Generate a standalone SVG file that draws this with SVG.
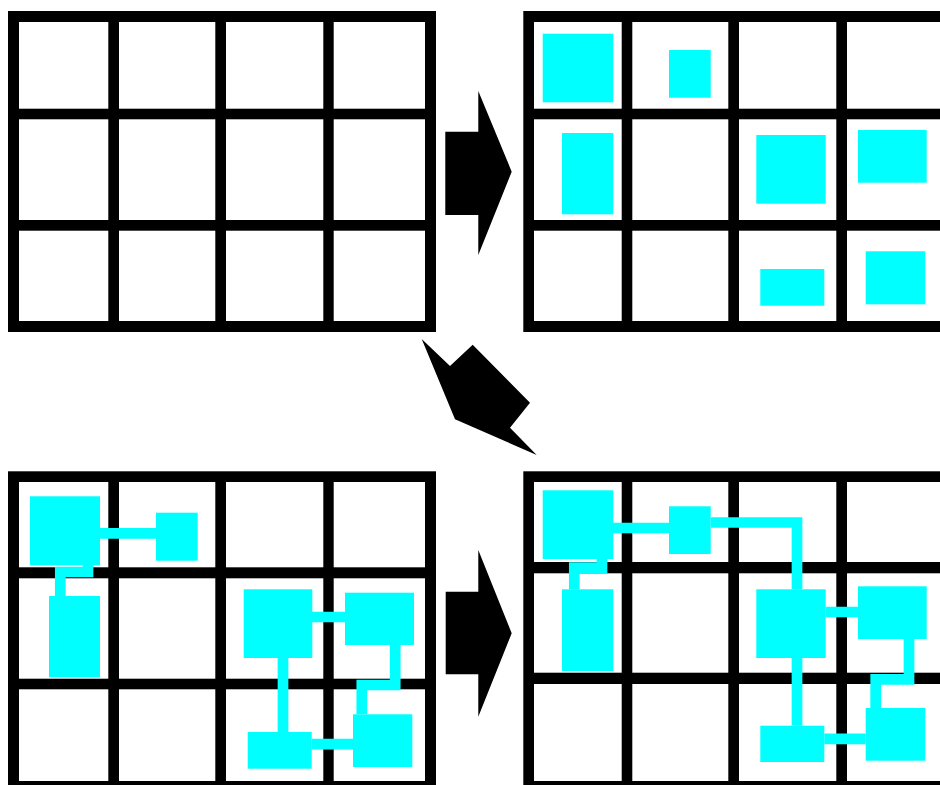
<svg xmlns="http://www.w3.org/2000/svg" width="940" height="785" viewBox="0 0 940 785">
<style>
.frame{fill:#000}
.cell{fill:#fff}
.box{fill:#00ffff}
.wire{fill:none;stroke:#00ffff;stroke-width:10.7;stroke-linejoin:miter;stroke-linecap:butt}
.arrow{fill:#000}
</style>
<rect width="940" height="785" fill="#fff"/>
<g id="panel-top-left">
<rect class="frame" x="8" y="11" width="428" height="321"/>
<rect class="cell" x="19" y="22" width="89.3" height="86.7"/><rect class="cell" x="119" y="22" width="96.3" height="86.7"/><rect class="cell" x="226" y="22" width="97.3" height="86.7"/><rect class="cell" x="333.7" y="22" width="91.3" height="86.7"/>
<rect class="cell" x="19" y="119.3" width="89.3" height="100.7"/><rect class="cell" x="119" y="119.3" width="96.3" height="100.7"/><rect class="cell" x="226" y="119.3" width="97.3" height="100.7"/><rect class="cell" x="333.7" y="119.3" width="91.3" height="100.7"/>
<rect class="cell" x="19" y="230.7" width="89.3" height="90.3"/><rect class="cell" x="119" y="230.7" width="96.3" height="90.3"/><rect class="cell" x="226" y="230.7" width="97.3" height="90.3"/><rect class="cell" x="333.7" y="230.7" width="91.3" height="90.3"/>
</g>
<g id="panel-top-right">
<rect class="frame" x="523.3" y="11" width="416.7" height="321"/>
<rect class="cell" x="534" y="22" width="87.7" height="86.7"/><rect class="cell" x="632.3" y="22" width="96" height="86.7"/><rect class="cell" x="739" y="22" width="97.3" height="86.7"/><rect class="cell" x="847" y="22" width="93" height="86.7"/>
<rect class="cell" x="534" y="119.3" width="87.7" height="100.7"/><rect class="cell" x="632.3" y="119.3" width="96" height="100.7"/><rect class="cell" x="739" y="119.3" width="97.3" height="100.7"/><rect class="cell" x="847" y="119.3" width="93" height="100.7"/>
<rect class="cell" x="534" y="230.7" width="87.7" height="90.3"/><rect class="cell" x="632.3" y="230.7" width="96" height="90.3"/><rect class="cell" x="739" y="230.7" width="97.3" height="90.3"/><rect class="cell" x="847" y="230.7" width="93" height="90.3"/>
</g>
<g id="panel-bottom-left">
<rect class="frame" x="8" y="471.3" width="428" height="313.7"/>
<rect class="cell" x="19" y="482" width="89.3" height="85.3"/><rect class="cell" x="119" y="482" width="96.3" height="85.3"/><rect class="cell" x="226" y="482" width="97.3" height="85.3"/><rect class="cell" x="333.7" y="482" width="91.3" height="85.3"/>
<rect class="cell" x="19" y="578.3" width="89.3" height="100.4"/><rect class="cell" x="119" y="578.3" width="96.3" height="100.4"/><rect class="cell" x="226" y="578.3" width="97.3" height="100.4"/><rect class="cell" x="333.7" y="578.3" width="91.3" height="100.4"/>
<rect class="cell" x="19" y="689.3" width="89.3" height="91.7"/><rect class="cell" x="119" y="689.3" width="96.3" height="91.7"/><rect class="cell" x="226" y="689.3" width="97.3" height="91.7"/><rect class="cell" x="333.7" y="689.3" width="91.3" height="91.7"/>
</g>
<g id="panel-bottom-right">
<rect class="frame" x="523.3" y="471.3" width="416.7" height="313.7"/>
<rect class="cell" x="534" y="482" width="87.7" height="80"/><rect class="cell" x="632.3" y="482" width="96" height="80"/><rect class="cell" x="739" y="482" width="97.3" height="80"/><rect class="cell" x="847" y="482" width="93" height="80"/>
<rect class="cell" x="534" y="573.3" width="87.7" height="99.4"/><rect class="cell" x="632.3" y="573.3" width="96" height="99.4"/><rect class="cell" x="739" y="573.3" width="97.3" height="99.4"/><rect class="cell" x="847" y="573.3" width="93" height="99.4"/>
<rect class="cell" x="534" y="684" width="87.7" height="97"/><rect class="cell" x="632.3" y="684" width="96" height="97"/><rect class="cell" x="739" y="684" width="97.3" height="97"/><rect class="cell" x="847" y="684" width="93" height="97"/>
</g>
<g id="arrow-top"><polygon class="arrow" points="445.3,131.7 478.3,131.7 478.3,91 511.7,171.7 478.3,255 478.3,215 445.3,215"/></g>
<g id="arrow-diagonal"><polygon class="arrow" points="421.7,339 450,366 472.7,344.7 530,402.7 510,427.7 536.7,455 455,419.3"/></g>
<g id="arrow-bottom"><polygon class="arrow" points="445.7,591.7 478.3,591.7 478.3,550 511.7,633.3 478.3,716.7 478.3,674.3 445.7,674.3"/></g>
<g id="connectors">
<polyline class="wire" points="100,533.3 156,533.3"/>
<polyline class="wire" points="88,565 88,572 60.3,572 60.3,596"/>
<polyline class="wire" points="312,617 345,617"/>
<polyline class="wire" points="283,658 283,732"/>
<polyline class="wire" points="311.7,744.2 353,744.2"/>
<polyline class="wire" points="395.2,645 395.2,685 361.8,685 361.8,714.3"/>
<polyline class="wire" points="613,528 669,528"/>
<polyline class="wire" points="710.7,522.5 797,522.5 797,589.3"/>
<polyline class="wire" points="602,559 602,567.7 574.3,567.7 574.3,589.3"/>
<polyline class="wire" points="825.7,612 858,612"/>
<polyline class="wire" points="797,658 797,725.7"/>
<polyline class="wire" points="824.3,738.8 865.7,738.8"/>
<polyline class="wire" points="909,639 909,679.3 875.7,679.3 875.7,708"/>
</g>
<g id="boxes-top-right">
<rect class="box" x="542.7" y="33.7" width="70.6" height="68.6"/>
<rect class="box" x="669" y="50" width="41.7" height="47.7"/>
<rect class="box" x="562" y="133" width="51.3" height="81.3"/>
<rect class="box" x="756.3" y="135" width="69.4" height="68.7"/>
<rect class="box" x="858" y="130" width="68.7" height="52.7"/>
<rect class="box" x="760.3" y="269" width="64" height="36.7"/>
<rect class="box" x="865.7" y="251.3" width="59.6" height="53"/>
</g>
<g id="boxes-bottom-left">
<rect class="box" x="30" y="496.3" width="70" height="69"/>
<rect class="box" x="156" y="512.7" width="41.7" height="48"/>
<rect class="box" x="49" y="596" width="51" height="81.3"/>
<rect class="box" x="243.7" y="589.3" width="68.6" height="68.7"/>
<rect class="box" x="345" y="592.7" width="69" height="52.3"/>
<rect class="box" x="247.7" y="732" width="64" height="36.7"/>
<rect class="box" x="353" y="714.3" width="59.3" height="52.7"/>
</g>
<g id="boxes-bottom-right">
<rect class="box" x="542.7" y="490.3" width="70.6" height="68.7"/>
<rect class="box" x="669" y="506.3" width="41.7" height="47.7"/>
<rect class="box" x="562" y="589.3" width="51.3" height="81.7"/>
<rect class="box" x="756.3" y="589.3" width="69.4" height="68.7"/>
<rect class="box" x="858" y="586.3" width="68.7" height="52.7"/>
<rect class="box" x="760.3" y="725.7" width="64" height="36.3"/>
<rect class="box" x="865.7" y="708" width="59.6" height="52.7"/>
</g>
</svg>
